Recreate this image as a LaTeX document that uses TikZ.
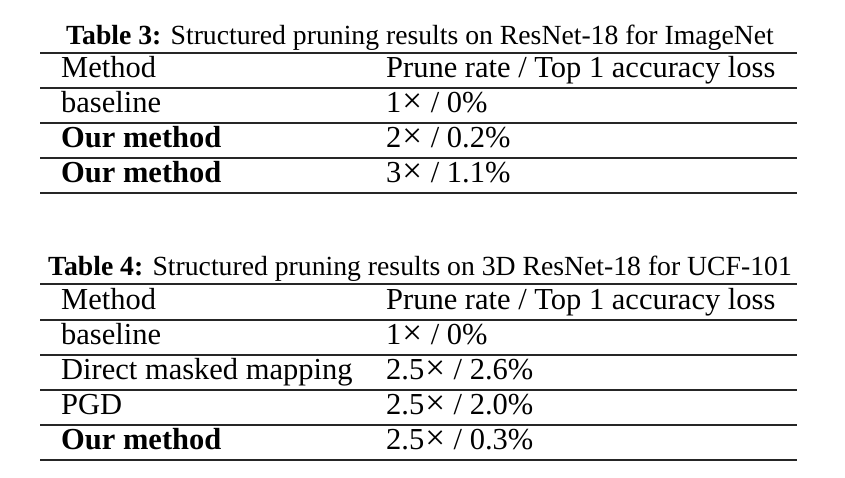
\documentclass[tikz,border=0pt]{standalone}
\usepackage{fontspec}
\setmainfont{Liberation Serif}
\newcommand{\tabfont}{\fontsize{30.5}{36}\selectfont}
\newcommand{\capfont}{\fontsize{27.7}{33}\selectfont}
\newcommand{\tms}{\kern1pt\scalebox{1.15}{×}\kern1pt}

\begin{document}
\begin{tikzpicture}[x=1pt, y=-1pt,
  cell/.style={anchor=base west, inner sep=0pt, font=\tabfont},
  capt/.style={anchor=base, inner sep=0pt, font=\capfont},
  hrule/.style={line width=1.3pt, black!85}]
\useasboundingbox (0,0) rectangle (845,477);

% Table 3
\node [capt] (cap3) at (420,44) {\textbf{Table 3:} Structured pruning results on ResNet-18 for ImageNet};
\foreach \y in {53,88,123,158,193}
  \draw [hrule] (40,\y) -- (797,\y);
\node [cell] (t3m0) at (61,77) {Method};
\node [cell] (t3r0) at (386,77) {Prune rate / Top 1 accuracy loss};
\node [cell] (t3m1) at (61,112) {baseline};
\node [cell] (t3r1) at (386,112) {1\tms{} / 0\%};
\node [cell] (t3m2) at (61,147) {\textbf{Our method}};
\node [cell] (t3r2) at (386,147) {2\tms{} / 0.2\%};
\node [cell] (t3m3) at (61,182) {\textbf{Our method}};
\node [cell] (t3r3) at (386,182) {3\tms{} / 1.1\%};

% Table 4
\node [capt] (cap4) at (420,275) {\textbf{Table 4:} Structured pruning results on 3D ResNet-18 for UCF-101};
\foreach \y in {284,320,355,390,425,460}
  \draw [hrule] (40,\y) -- (797,\y);
\node [cell] (t4m0) at (61,309) {Method};
\node [cell] (t4r0) at (386,309) {Prune rate / Top 1 accuracy loss};
\node [cell] (t4m1) at (61,344) {baseline};
\node [cell] (t4r1) at (386,344) {1\tms{} / 0\%};
\node [cell] (t4m2) at (61,379) {Direct masked mapping};
\node [cell] (t4r2) at (386,379) {2.5\tms{} / 2.6\%};
\node [cell] (t4m3) at (61,414) {PGD};
\node [cell] (t4r3) at (386,414) {2.5\tms{} / 2.0\%};
\node [cell] (t4m4) at (61,449) {\textbf{Our method}};
\node [cell] (t4r4) at (386,449) {2.5\tms{} / 0.3\%};
\end{tikzpicture}
\end{document}
